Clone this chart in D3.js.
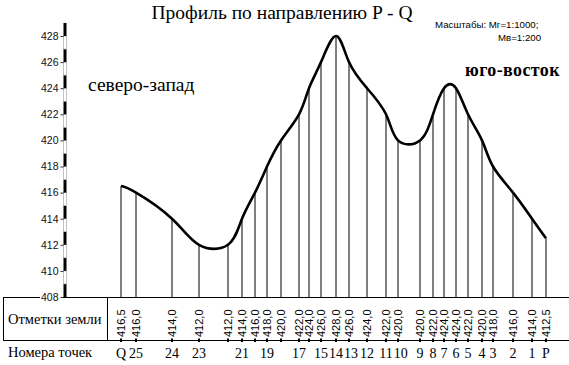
<!DOCTYPE html>
<html>
<head>
<meta charset="utf-8">
<script src="https://cdn.jsdelivr.net/npm/d3@7"></script>
<style>
  body { margin: 0; background: #fff; }
  svg { display: block; }
</style>
</head>
<body>
<svg id="profile"></svg>
<script>
// point names, from Q (north-west) to P (south-east)
const pointNames = ['Q', '25', '24', '23', '22', '21', '20', '19', '18', '17', '16', '15', '14',
  '13', '12', '11', '10', '9', '8', '7', '6', '5', '4', '3', '2', '1', 'P'];
// numbers shown in the bottom row (some are left out on the drawing)
const shownNames = ['Q', '25', '24', '23', '', '21', '', '19', '', '17', '', '15', '14',
  '13', '12', '11', '10', '9', '8', '7', '6', '5', '4', '3', '2', '1', 'P'];
// distance from Q, m
const distances = [0, 15, 51, 78, 107, 121, 134, 146, 160, 178, 188, 200, 215,
  228, 246, 265, 277, 299, 312, 323, 335, 347, 361, 372, 392, 411, 425];
// ground elevations, m
const elevations = [416.5, 416.0, 414.0, 412.0, 412.0, 414.0, 416.0, 418.0, 420.0, 422.0, 424.0, 426.0, 428.0,
  426.0, 424.0, 422.0, 420.0, 420.0, 422.0, 424.0, 424.0, 422.0, 420.0, 418.0, 416.0, 414.0, 412.5];
const yTicks = [408, 410, 412, 414, 416, 418, 420, 422, 424, 426, 428];

const fullWidth = 569;
const fullHeight = 365;
const SERIF = '"Liberation Serif", "DejaVu Serif", serif';
const SANS = '"Liberation Sans", Arial, sans-serif';

const data = pointNames.map((name, i) => ({
  name,
  shown: shownNames[i],
  dist: distances[i],
  elev: elevations[i],
}));

const x = d3.scaleLinear()
    .domain([0, 425])
    .range([121, 546]);

const y = d3.scaleLinear()
    .domain([408, 428])
    .range([297, 36]);

const axisX = 65;
const tableTop = y(408);
const tableBottom = 340;

const svg = d3.select('#profile')
    .attr('width', fullWidth)
    .attr('height', fullHeight);

const comma = d => d3.format('.1f')(d).replace('.', ',');

// title and notes
svg.append('text')
    .attr('x', 282)
    .attr('y', 19)
    .attr('text-anchor', 'middle')
    .style('font-family', SERIF)
    .style('font-size', '19.5px')
    .text('Профиль по направлению P - Q');

svg.append('text')
    .attr('x', 435)
    .attr('y', 28)
    .style('font-family', SANS)
    .style('font-size', '9.7px')
    .text('Масштабы: Мг=1:1000;');

svg.append('text')
    .attr('x', 498)
    .attr('y', 41)
    .style('font-family', SANS)
    .style('font-size', '9.7px')
    .text('Мв=1:200');

svg.append('text')
    .attr('x', 88)
    .attr('y', 91)
    .style('font-family', SERIF)
    .style('font-size', '19.5px')
    .text('северо-запад');

svg.append('text')
    .attr('x', 465)
    .attr('y', 76)
    .style('font-family', SERIF)
    .style('font-size', '18px')
    .style('font-weight', 'bold')
    .style('letter-spacing', '0.4px')
    .text('юго-восток');

// vertical scale bar: alternating black and white metre segments
const segments = d3.range(408, 429);
svg.append('g')
  .selectAll('rect')
  .data(segments)
  .join('rect')
    .attr('x', axisX - 1.5)
    .attr('width', 3)
    .attr('y', d => y(d + 1))
    .attr('height', d => y(d) - y(d + 1))
    .attr('fill', d => (d % 2 === 0 ? '#000' : '#fff'))
    .attr('stroke', d => (d % 2 === 0 ? 'none' : '#999'))
    .attr('stroke-width', 0.6);

svg.append('g')
    .attr('transform', `translate(${axisX - 1.5}, 0)`)
    .call(d3.axisLeft(y)
      .tickValues(yTicks)
      .tickFormat(d3.format('d'))
      .tickSize(3)
      .tickPadding(2))
    .call(g => g.select('.domain').remove())
    .call(g => g.selectAll('text')
      .style('font-family', SANS)
      .style('font-size', '10.5px')
      .attr('fill', '#111'))
    .call(g => g.selectAll('line').attr('stroke', '#333'));

// table frame
const frame = svg.append('g')
    .attr('stroke', '#000')
    .attr('stroke-width', 1)
    .attr('shape-rendering', 'crispEdges');

frame.append('line')
    .attr('x1', 3).attr('x2', 40)
    .attr('y1', tableTop).attr('y2', tableTop);
frame.append('line')
    .attr('x1', axisX - 2).attr('x2', fullWidth)
    .attr('y1', tableTop).attr('y2', tableTop);
frame.append('line')
    .attr('x1', 3).attr('x2', fullWidth)
    .attr('y1', tableBottom).attr('y2', tableBottom);
frame.append('line')
    .attr('x1', 3).attr('x2', 3)
    .attr('y1', tableTop).attr('y2', tableBottom);
frame.append('line')
    .attr('x1', 107).attr('x2', 107)
    .attr('y1', tableTop).attr('y2', tableBottom);

svg.append('text')
    .attr('x', 8)
    .attr('y', 324)
    .style('font-family', SERIF)
    .style('font-size', '14.5px')
    .text('Отметки земли');

svg.append('text')
    .attr('x', 8)
    .attr('y', 357)
    .style('font-family', SERIF)
    .style('font-size', '14.5px')
    .text('Номера точек');

// ordinates from the datum to the ground line
svg.append('g')
  .selectAll('line')
  .data(data)
  .join('line')
    .attr('x1', d => x(d.dist))
    .attr('x2', d => x(d.dist))
    .attr('y1', tableTop)
    .attr('y2', d => y(d.elev))
    .attr('stroke', '#000')
    .attr('stroke-width', 1);

// ground line
const line = d3.line()
    .x(d => x(d.dist))
    .y(d => y(d.elev))
    .curve(d3.curveNatural);

svg.append('path')
    .datum(data)
    .attr('d', line)
    .attr('fill', 'none')
    .attr('stroke', '#000')
    .attr('stroke-width', 2.6)
    .attr('stroke-linejoin', 'round');

// elevations in the table
svg.append('g')
  .selectAll('text')
  .data(data)
  .join('text')
    .attr('transform', d => `translate(${x(d.dist) + 4}, ${tableBottom - 3}) rotate(-90)`)
    .style('font-family', SANS)
    .style('font-size', '11px')
    .text(d => comma(d.elev));

// point marks and numbers
svg.append('g')
  .selectAll('rect')
  .data(data)
  .join('rect')
    .attr('x', d => x(d.dist) - 1)
    .attr('y', tableBottom - 1.5)
    .attr('width', 2)
    .attr('height', 3.5)
    .attr('fill', '#000');

const numbers = svg.append('g')
  .selectAll('text')
  .data(data.filter(d => d.shown))
  .join('text')
    .attr('x', d => x(d.dist))
    .attr('y', 358)
    .attr('text-anchor', 'middle')
    .style('font-family', SERIF)
    .style('font-size', '14px')
    .text(d => d.shown);

// push apart numbers that touch
let prevRight = -Infinity;
numbers.each(function () {
  const box = this.getBBox();
  if (box.x < prevRight + 1) {
    const shift = prevRight + 1 - box.x;
    d3.select(this).attr('x', +d3.select(this).attr('x') + shift);
    prevRight = box.x + box.width + shift;
  } else {
    prevRight = box.x + box.width;
  }
});
</script>
</body>
</html>
